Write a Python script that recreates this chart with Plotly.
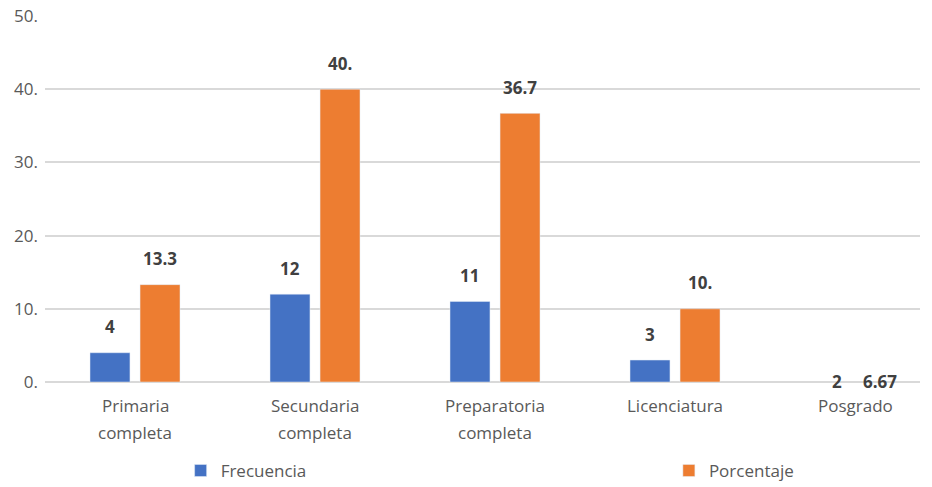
import plotly.graph_objects as go

cat_line1 = ["Primaria", "Secundaria", "Preparatoria", "Licenciatura", "Posgrado"]
cat_line2 = ["completa", "completa", "completa", "", ""]
frecuencia = [4, 12, 11, 3, 2]
porcentaje = [13.3, 40.0, 36.7, 10.0, 6.67]
frec_labels = ["4", "12", "11", "3", "2"]
porc_labels = ["13.3", "40.", "36.7", "10.", "6.67"]
bar_drawn = [True, True, True, True, False]
y_tickvals = [0, 10, 20, 30, 40, 50]
y_ticktext = ["0.", "10.", "20.", "30.", "40.", "50."]

BLUE = "#4472C4"
ORANGE = "#ED7D31"
FONT = "Open Sans"
xs = list(range(len(cat_line1)))
W = 0.222

fig = go.Figure()
fig.add_trace(go.Bar(
    name="Frecuencia", x=xs,
    y=[v if d else None for v, d in zip(frecuencia, bar_drawn)],
    width=W, offset=-0.25, marker_color=BLUE, legend="legend",
))
fig.add_trace(go.Bar(
    name="Porcentaje", x=xs,
    y=[v if d else None for v, d in zip(porcentaje, bar_drawn)],
    width=W, offset=0.028, marker_color=ORANGE, legend="legend2",
))

lab_font = dict(family=FONT, size=17, color="#404040", weight="bold")
for i in xs:
    for val, lab, off in ((frecuencia[i], frec_labels[i], -0.139), (porcentaje[i], porc_labels[i], 0.139)):
        if bar_drawn[i]:
            fig.add_annotation(x=i + off, y=val, text=lab, showarrow=False,
                               yanchor="middle", yshift=26, font=lab_font)
        else:
            fig.add_annotation(x=i + off + (0.04 if off < 0 else 0.0), y=0, text=lab, showarrow=False,
                               yanchor="middle", yshift=1, font=lab_font)

cat_font = dict(family=FONT, size=17, color="#595959")
for i in xs:
    fig.add_annotation(x=i, y=0, yref="paper", text=cat_line1[i], showarrow=False,
                       yanchor="middle", yshift=-23, font=cat_font)
    if cat_line2[i]:
        fig.add_annotation(x=i, y=0, yref="paper", text=cat_line2[i], showarrow=False,
                           yanchor="middle", yshift=-50, font=cat_font)

leg_font = dict(family=FONT, size=17, color="#595959")
fig.update_layout(
    width=932, height=487,
    margin=dict(l=45, r=12, t=16, b=105, autoexpand=False),
    plot_bgcolor="white", paper_bgcolor="white",
    font=dict(family=FONT, size=17, color="#595959"),
    barmode="overlay",
    showlegend=True,
    legend=dict(x=0.155, y=-0.243, xanchor="left", yanchor="middle",
                font=leg_font, itemwidth=30, bgcolor="rgba(0,0,0,0)"),
    legend2=dict(x=0.713, y=-0.243, xanchor="left", yanchor="middle",
                 font=leg_font, itemwidth=30, bgcolor="rgba(0,0,0,0)"),
    xaxis=dict(tickmode="array", tickvals=xs, ticktext=["" for _ in xs],
               range=[-0.5, 4.361], showgrid=False, zeroline=False, showline=False,
               ticks="", automargin=False),
    yaxis=dict(range=[0, 50], tickvals=y_tickvals, ticktext=y_ticktext,
               showgrid=True, gridcolor="#d9d9d9", gridwidth=2,
               zeroline=True, zerolinecolor="#d9d9d9", zerolinewidth=2,
               ticks="", ticklabelstandoff=6, automargin=False,
               tickfont=dict(family=FONT, size=17, color="#595959")),
)

fig.write_html("out.html")
